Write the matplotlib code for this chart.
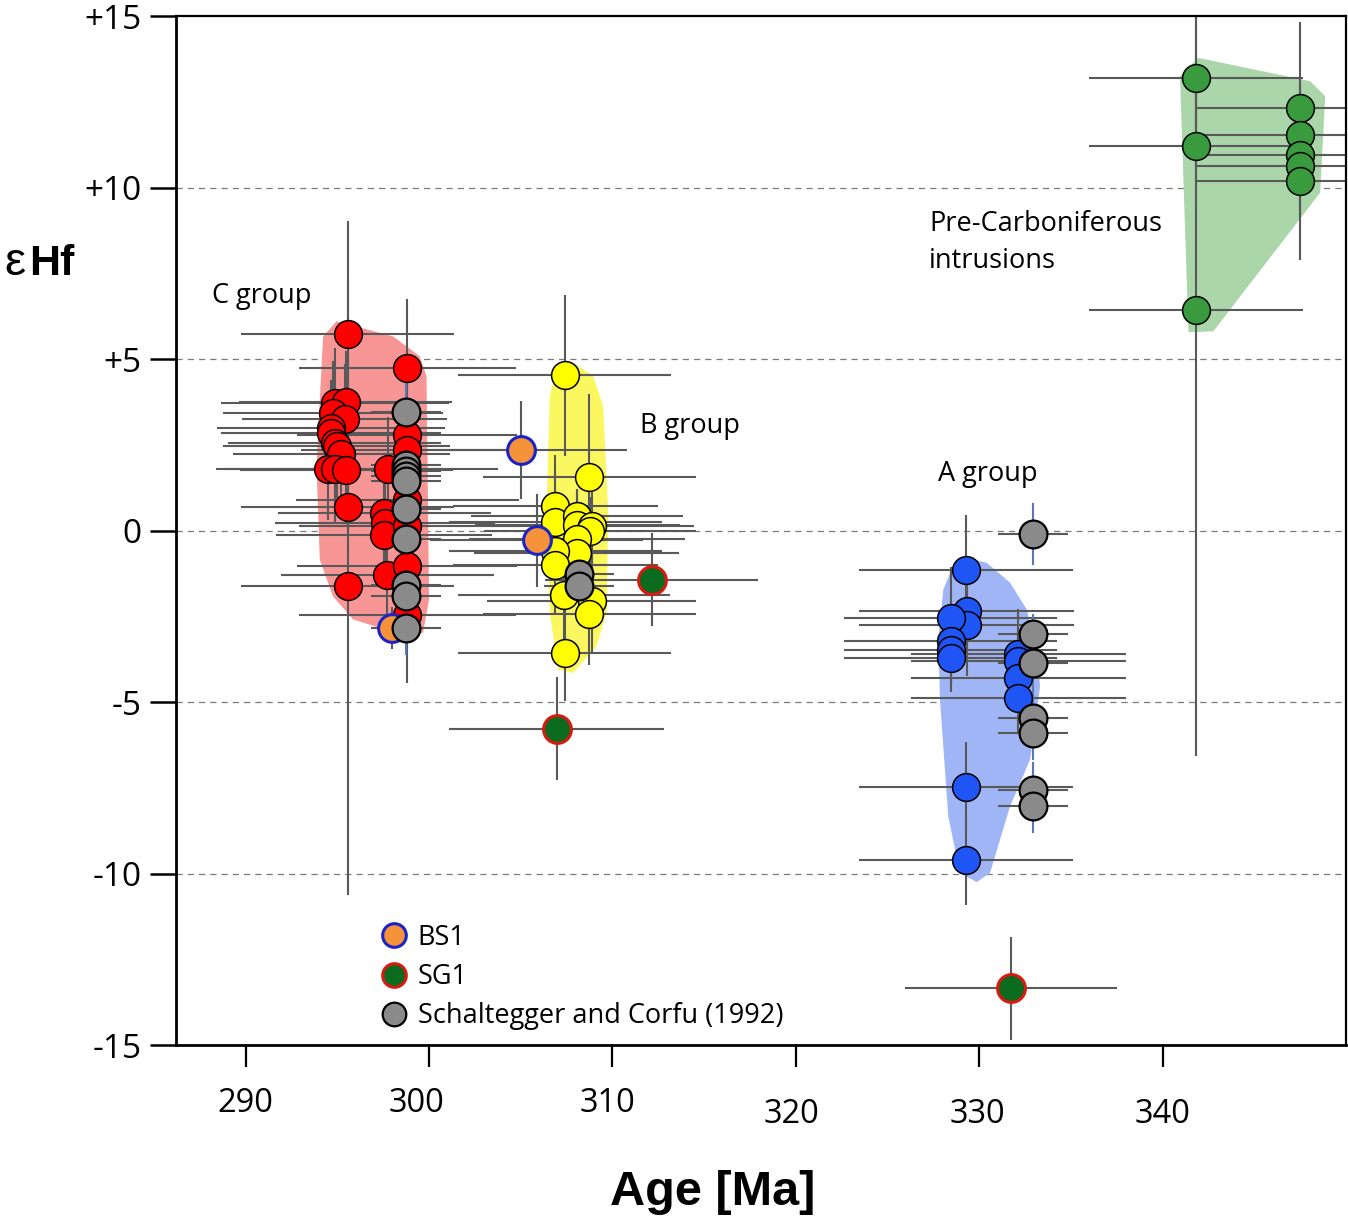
import matplotlib
matplotlib.use("Agg")
import matplotlib.pyplot as plt
import matplotlib.transforms as mtransforms
from matplotlib.lines import Line2D

plt.rcParams['font.family'] = ['Open Sans', 'DejaVu Sans']

# ---- data: age [Ma], eHf, 2s errors ----
# C group (red)
c_age = [295.55, 294.86, 295.46, 294.77, 295.40, 294.64, 294.67, 294.86, 294.95, 295.22,
         294.49, 294.86, 295.49, 295.55, 295.55, 297.76, 297.55, 297.58, 297.55, 297.73,
         298.82, 298.82, 298.82, 298.82, 298.82, 298.82, 298.82]
c_ehf = [5.73, 3.72, 3.74, 3.43, 3.26, 2.99, 2.85, 2.56, 2.46, 2.22,
         1.80, 1.78, 1.76, 0.68, -1.62, 1.80, 0.52, 0.22, -0.12, -1.31,
         4.74, 2.80, 2.36, 0.90, 0.13, -1.04, -2.45]
c_age_err = [5.8, 6.2, 5.8, 6.0, 5.6, 6.2, 6.0, 5.8, 6.2, 5.9,
             6.1, 6.0, 5.8, 5.8, 5.8, 6.0, 5.8, 6.0, 5.9, 5.8,
             5.9, 6.0, 5.8, 6.1, 5.9, 6.0, 5.9]
c_ehf_err = [3.3, 1.6, 1.5, 1.5, 1.6, 1.4, 1.5, 1.6, 1.5, 1.5,
             1.5, 1.6, 1.5, 1.5, 9.0, 1.5, 1.5, 1.5, 1.5, 1.5,
             2.0, 1.5, 1.5, 1.5, 1.5, 1.5, 2.0]

# B group (yellow)
b_age = [307.40, 308.73, 306.89, 306.89, 308.07, 308.09, 308.86, 308.77, 308.07, 308.04,
         306.89, 306.89, 307.35, 308.86, 308.73, 307.40]
b_ehf = [4.53, 1.57, 0.71, 0.25, 0.42, 0.17, 0.13, -0.02, -0.26, -0.65,
         -0.60, -0.99, -1.87, -2.06, -2.43, -3.57]
b_age_err = [5.8, 5.8, 5.6, 5.8, 5.8, 5.6, 5.6, 5.8, 5.9, 5.6,
             5.8, 5.6, 5.8, 5.7, 5.8, 5.8]
b_ehf_err = [2.35, 2.4, 1.5, 1.5, 0.8, 1.0, 1.0, 1.0, 1.2, 1.4,
             1.6, 1.4, 1.5, 1.5, 1.5, 1.4]

# A group (blue)
a_age = [329.28, 329.31, 329.31, 328.44, 328.44, 328.44, 328.44, 329.28, 329.28,
         332.13, 332.13, 332.13, 332.13]
a_ehf = [-1.16, -2.35, -2.74, -2.55, -3.23, -3.47, -3.71, -7.47, -9.61,
         -3.59, -3.81, -4.30, -4.88]
a_age_err = [5.85, 5.85, 5.85, 5.8, 5.8, 5.8, 5.8, 5.85, 5.85,
             5.85, 5.85, 5.85, 5.85]
a_ehf_err = [1.6, 1.2, 1.5, 1.5, 1.2, 1.1, 1.0, 1.3, 1.3,
             1.3, 1.0, 1.0, 1.0]

# Pre-Carboniferous intrusions (green)
g_age = [341.81, 341.81, 341.81, 347.47, 347.47, 347.47, 347.47, 347.47]
g_ehf = [13.20, 11.20, 6.44, 12.32, 11.52, 10.96, 10.62, 10.18]
g_age_err = [5.85, 5.85, 5.85, 5.7, 5.7, 5.7, 5.7, 5.7]
g_ehf_err = [2.0, 2.0, 13.0, 2.5, 1.5, 1.5, 1.5, 2.3]

# Schaltegger and Corfu (1992) (grey)
s_age = [298.73] * 10 + [308.18, 308.18] + [332.95] * 7
s_ehf = [3.45, 1.90, 1.75, 1.60, 1.44, 0.63, -0.24, -1.59, -1.91, -2.84,
         -1.28, -1.62, -0.10, -3.03, -3.86, -5.46, -5.90, -7.55, -8.02]
s_age_err = [1.9] * 19
s_ehf_err = [0.9, 0.8, 0.8, 0.8, 0.8, 0.8, 0.8, 0.8, 0.8, 0.8,
             0.8, 0.8, 0.9, 0.6, 0.8, 0.8, 0.8, 0.8, 0.8]

# reference materials
bs1_age = [304.99, 305.86, 298.0]
bs1_ehf = [2.34, -0.29, -2.84]
bs1_age_err = [5.8, 5.8, 1.0]
bs1_ehf_err = [1.43, 1.36, 0.6]

sg1_age = [312.13, 306.95, 331.73]
sg1_ehf = [-1.43, -5.78, -13.35]
sg1_age_err = [5.8, 5.85, 5.8]
sg1_ehf_err = [1.35, 1.5, 1.5]

# field outlines (age, eHf)
c_hull_age = [294.95, 298.04, 299.49, 299.86, 300.0, 299.67, 298.77, 295.85, 294.76, 294.04, 293.86, 294.04, 294.22]
c_hull_ehf = [6.10, 5.66, 5.08, 4.50, -2.01, -2.98, -3.08, -2.59, -1.92, -0.85, 1.87, 3.82, 5.66]
b_hull_age = [307.86, 308.95, 309.49, 309.77, 309.68, 309.13, 307.86, 307.04, 306.58, 306.40, 306.58, 306.95]
b_hull_ehf = [4.89, 4.50, 3.62, 0.52, -2.40, -3.37, -4.15, -4.05, -2.40, 0.52, 3.92, 4.79]
a_hull_age = [329.32, 330.41, 331.68, 332.59, 333.14, 333.32, 332.77, 331.68, 330.59, 329.86,
              328.95, 328.31, 327.86, 327.77, 328.04, 328.57]
a_hull_ehf = [-0.80, -0.94, -1.52, -2.30, -3.47, -4.54, -6.68, -8.04, -9.98, -10.25,
              -9.98, -8.33, -4.93, -3.18, -1.72, -1.04]
g_hull_age = [341.95, 348.05, 348.87, 348.59, 342.77, 341.41, 340.95]
g_hull_ehf = [13.78, 13.10, 12.66, 9.85, 5.81, 5.78, 13.25]

y_ticks = [-15, -10, -5, 0, 5, 10, 15]
y_tick_labels = ['-15', '-10', '-5', '0', '+5', '+10', '+15']
x_ticks = [290, 300, 310, 320, 330, 340]

ERR = '#595959'
MS = 20

fig = plt.figure(figsize=(13.48, 12.24), dpi=100)
ax = fig.add_axes([0.1306, 0.1462, 0.8679, 0.8407])
ax.set_xlim(286.2, 350.0)
ax.set_ylim(-15, 15)

for yy in [-10, -5, 0, 5, 10]:
    ax.axhline(yy, color='#7a7a7a', lw=0.9, dashes=(5, 4), zorder=0)

ax.fill(c_hull_age, c_hull_ehf, color='#f89696', lw=0, zorder=1)
ax.fill(b_hull_age, b_hull_ehf, color='#faf760', lw=0, zorder=1)
ax.fill(a_hull_age, a_hull_ehf, color='#9fb5f6', lw=0, zorder=1)
ax.fill(g_hull_age, g_hull_ehf, color='#aad6aa', lw=0, zorder=1)


def draw(age, ehf, aerr, eerr, face, edge, ew=1.1, vcol=ERR):
    ax.errorbar(age, ehf, xerr=aerr, fmt='none', ecolor=ERR, elinewidth=1.5, capsize=0, zorder=2)
    ax.errorbar(age, ehf, yerr=eerr, fmt='none', ecolor=vcol, elinewidth=1.5, capsize=0, zorder=2)
    ax.plot(age, ehf, 'o', ms=MS, mfc=face, mec=edge, mew=ew, ls='none', zorder=3)


draw(g_age, g_ehf, g_age_err, g_ehf_err, '#3a9a3e', 'black')
draw(a_age, a_ehf, a_age_err, a_ehf_err, '#1f55f5', 'black')
draw(c_age, c_ehf, c_age_err, c_ehf_err, '#ff0000', 'black')
draw(b_age, b_ehf, b_age_err, b_ehf_err, '#ffff00', 'black')
draw(bs1_age, bs1_ehf, bs1_age_err, bs1_ehf_err, '#f5923a', '#1a22c8', ew=2.2)
draw(sg1_age, sg1_ehf, sg1_age_err, sg1_ehf_err, '#0b6b1e', '#d81b10', ew=2.2)
draw(s_age, s_ehf, s_age_err, s_ehf_err, '#8a8a8a', 'black', ew=1.6, vcol='#5a78b8')

# labels in the plot
ax.text(288.15, 6.85, 'C group', fontsize=19.5, va='center', ha='left')
ax.text(311.5, 3.06, 'B group', fontsize=19.5, va='center', ha='left')
ax.text(327.75, 1.66, 'A group', fontsize=19.5, va='center', ha='left')
ax.text(327.26, 8.40, 'Pre-Carboniferous\nintrusions', fontsize=19.5, va='center', ha='left',
        linespacing=1.45)

# axes styling
for side in ['left', 'bottom']:
    ax.spines[side].set_linewidth(2.0)
for side in ['top', 'right']:
    ax.spines[side].set_linewidth(1.6)

ax.set_yticks(y_ticks)
ax.set_yticklabels(y_tick_labels)
ax.set_xticks(x_ticks)
ax.set_xticklabels([str(t) for t in x_ticks])
ax.tick_params(axis='y', direction='out', length=19, width=1.8, pad=6, labelsize=24)
ax.tick_params(axis='x', direction='out', length=16, width=1.6, pad=14, labelsize=23.5)

# tick labels in the original are a bit irregular
x_shift = [0, -13, -5, -4, -2, 0]
y_shift = [0, 0, 0, -11, -11, -11]
for lab, dx, dy in zip(ax.get_xticklabels(), x_shift, y_shift):
    off = mtransforms.ScaledTranslation(dx / 100, dy / 100, fig.dpi_scale_trans)
    lab.set_transform(lab.get_transform() + off)

fig.text(713 / 1348, 1 - 1205 / 1224, 'Age [Ma]', ha='center', va='baseline',
         family='Liberation Sans', weight='bold', fontsize=35)
fig.text(4 / 1348, 1 - 275 / 1224, 'ε', ha='left', va='baseline',
         family='Liberation Sans', fontsize=34)
fig.text(29 / 1348, 1 - 275 / 1224, 'Hf', ha='left', va='baseline',
         family='Liberation Sans', weight='bold', fontsize=31)

handles = [
    Line2D([], [], marker='o', ls='none', ms=17, mfc='#f5923a', mec='#1a22c8', mew=2.2),
    Line2D([], [], marker='o', ls='none', ms=17, mfc='#0b6b1e', mec='#d81b10', mew=2.2),
    Line2D([], [], marker='o', ls='none', ms=17, mfc='#8a8a8a', mec='black', mew=1.6),
]
ax.legend(handles, ['BS1', 'SG1', 'Schaltegger and Corfu (1992)'], loc='upper left',
          bbox_to_anchor=(0.175, 0.118), frameon=False, fontsize=19.5, borderpad=0,
          borderaxespad=0, handlelength=1.0, handletextpad=0.36, labelspacing=0.42)

fig.savefig('out.png', dpi=100)
